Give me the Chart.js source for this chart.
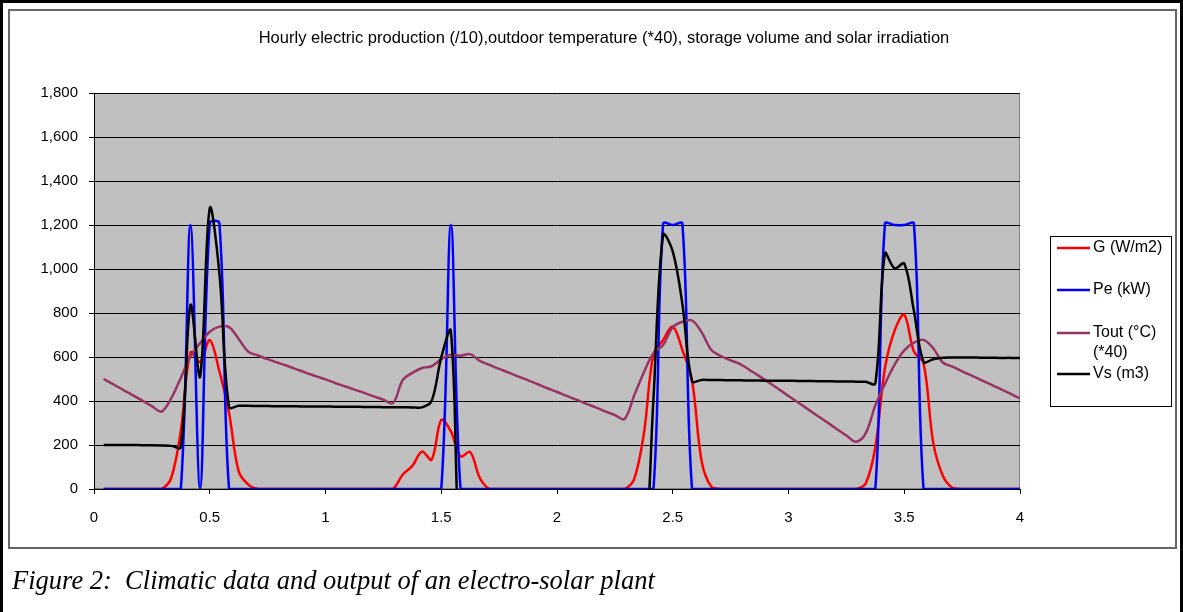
<!DOCTYPE html>
<html>
<head>
<meta charset="utf-8">
<script src="https://cdn.jsdelivr.net/npm/chart.js@4.4.1/dist/chart.umd.min.js"></script>
<style>
  body { margin: 0; background: #fff; }
  #page { position: relative; width: 1183px; height: 612px; overflow: hidden; }
  #outer { position: absolute; left: 0; top: 0; width: 1183px; height: 640px; box-sizing: border-box;
           border-left: 3px solid #000; border-top: 3px solid #000; border-right: 3px solid #000; }
  #box { position: absolute; left: 8px; top: 9px; width: 1169px; height: 540px; box-sizing: border-box;
         border: 2px solid #666; }
  #wrap { position: absolute; left: 0; top: 0; width: 1183px; height: 612px; }
  #caption { position: absolute; left: 12px; top: 565px; font: italic 26.5px "Liberation Serif", "Times New Roman", serif; }
</style>
</head>
<body>
<div id="page">
  <div id="outer"></div>
  <div id="box"></div>
  <div id="wrap"><canvas id="myChart"></canvas></div>
  <div id="caption">Figure 2:&nbsp; Climatic data and output of an electro-solar plant</div>
</div>
<script>
const chartTitle = "Hourly electric production (/10),outdoor temperature (*40), storage volume and solar irradiation";

// hour of the simulation (x axis is in days)
const hours = [
  1, 2, 3, 4, 5, 6, 7, 8, 9, 10, 11, 12, 13, 14, 15, 16, 17, 18, 19, 20, 21, 22, 23, 24,
  25, 26, 27, 28, 29, 30, 31, 32, 33, 34, 35, 36, 37, 38, 39, 40, 41, 42, 43, 44, 45, 46, 47, 48,
  49, 50, 51, 52, 53, 54, 55, 56, 57, 58, 59, 60, 61, 62, 63, 64, 65, 66, 67, 68, 69, 70, 71, 72,
  73, 74, 75, 76, 77, 78, 79, 80, 81, 82, 83, 84, 85, 86, 87, 88, 89, 90, 91, 92, 93, 94, 95, 96
];

// G (W/m2)
const gValues = [
  0, 0, 0, 0, 0, 0, 0, 50, 265, 620, 578, 677, 535, 345, 80, 20, 0, 0, 0, 0, 0, 0, 0, 0,
  0, 0, 0, 0, 0, 0, 0, 65, 105, 170, 133, 314, 262, 148, 168, 50, 0, 0, 0, 0, 0, 0, 0, 0,
  0, 0, 0, 0, 0, 0, 0, 45, 250, 612, 677, 738, 632, 492, 125, 10, 0, 0, 0, 0, 0, 0, 0, 0,
  0, 0, 0, 0, 0, 0, 0, 25, 190, 550, 720, 792, 625, 572, 212, 60, 5, 0, 0, 0, 0, 0, 0, 0
];

// Pe (kW)
const peValues = [
  0, 0, 0, 0, 0, 0, 0, 0, 0, 1200, 0, 1208, 1208, 0, 0, 0, 0, 0, 0, 0, 0, 0, 0, 0,
  0, 0, 0, 0, 0, 0, 0, 0, 0, 0, 0, 0, 1200, 0, 0, 0, 0, 0, 0, 0, 0, 0, 0, 0,
  0, 0, 0, 0, 0, 0, 0, 0, 0, 0, 1206, 1200, 1206, 0, 0, 0, 0, 0, 0, 0, 0, 0, 0, 0,
  0, 0, 0, 0, 0, 0, 0, 0, 0, 1206, 1200, 1200, 1206, 0, 0, 0, 0, 0, 0, 0, 0, 0, 0, 0
];

// Tout (°C) (*40)
const toutValues = [
  500, 476, 451, 427, 402, 377, 352, 412, 505, 603, 663, 715, 738, 736, 682, 624, 607, 590, 575, 560, 544, 528, 513, 498,
  482, 467, 452, 437, 421, 406, 390, 495, 528, 550, 558, 590, 610, 606, 613, 582, 564, 546, 529, 511, 494, 476, 458, 441,
  423, 406, 388, 371, 353, 336, 318, 425, 530, 617, 655, 735, 760, 766, 712, 632, 604, 585, 568, 540, 512, 483, 453, 423,
  393, 363, 333, 303, 273, 243, 215, 253, 380, 478, 565, 630, 665, 678, 640, 575, 556, 535, 515, 495, 474, 454, 433, 412
];

// Vs (m3) - below the axis (clipped) between the 2nd and 3rd day
const vsValues = [
  200, 200, 200, 200, 199, 199, 198, 196, 190, 836, 511, 1276, 980, 372, 378, 378, 377, 377, 376, 376, 376, 375, 375, 375,
  374, 374, 374, 373, 373, 372, 372, 372, 371, 371, 400, 598, 718, -350, -350, -350, -350, -350, -350, -350, -350, -350, -350, -350,
  -350, -350, -350, -350, -350, -350, -350, -350, -350, 410, 1155, 1080, 840, 490, 496, 495, 495, 494, 494, 493, 493, 492, 492, 492,
  491, 491, 490, 490, 489, 489, 488, 487, 480, 1071, 1003, 1025, 810, 578, 590, 597, 598, 598, 598, 597, 597, 596, 596, 595
];

const seriesNames = ["G (W/m2)", "Pe (kW)", "Tout (°C) (*40)", "Vs (m3)"];
const seriesColors = ["#ff0000", "#0000ff", "#993366", "#000000"];

function toPoints(values) {
    return hours.map((h, i) => ({ x: h / 24, y: values[i] }));
}

Chart.defaults.font.family = '"Liberation Sans", Arial, sans-serif';
Chart.defaults.color = "#000";

const excelLook = {
    id: "excelLook",
    beforeDraw: function (chart) {
        const ctx = chart.ctx;
        const a = chart.chartArea;
        ctx.save();
        ctx.fillStyle = "#c0c0c0";
        ctx.fillRect(a.left, a.top, a.right - a.left, a.bottom - a.top);
        ctx.strokeStyle = "#808080";
        ctx.lineWidth = 1;
        ctx.strokeRect(a.left + 0.5, a.top + 0.5, a.right - a.left - 1, a.bottom - a.top - 1);
        ctx.restore();
    },
    afterDraw: function (chart) {
        const ctx = chart.ctx;
        ctx.save();
        // title
        ctx.fillStyle = "#000";
        ctx.font = '16.5px "Liberation Sans", Arial, sans-serif';
        ctx.textAlign = "center";
        ctx.textBaseline = "middle";
        ctx.fillText(chartTitle, 604, 38);

        // legend box
        ctx.strokeStyle = "#000";
        ctx.lineWidth = 1;
        ctx.strokeRect(1050.5, 236.5, 121, 170);
        const rows = [248, 290, 333, 374];
        ctx.font = '16px "Liberation Sans", Arial, sans-serif';
        ctx.textAlign = "left";
        seriesNames.forEach((name, i) => {
            ctx.strokeStyle = seriesColors[i];
            ctx.lineWidth = 2.5;
            ctx.beginPath();
            ctx.moveTo(1057, rows[i]);
            ctx.lineTo(1090, rows[i]);
            ctx.stroke();
            ctx.fillStyle = "#000";
            if (i === 2) {
                ctx.fillText("Tout (°C)", 1093, rows[i]);
                ctx.fillText("(*40)", 1093, rows[i] + 20);
            } else {
                ctx.fillText(name, 1093, rows[i]);
            }
        });
        ctx.restore();
    },
};

const datasetValues = [gValues, peValues, toutValues, vsValues];

const ctx = document.getElementById("myChart").getContext("2d");
const myChart = new Chart(ctx, {
    type: "line",
    plugins: [excelLook],
    data: {
        datasets: datasetValues.map((vals, i) => ({
            label: seriesNames[i],
            data: toPoints(vals),
            borderColor: seriesColors[i],
            backgroundColor: seriesColors[i],
            borderWidth: 2.5,
            pointRadius: 0,
            tension: 0.35,
            fill: false,
            // excel draws the last series on top
            order: 3 - i,
        })),
    },
    options: {
        responsive: true,
        maintainAspectRatio: false,
        animation: false,
        layout: {
            padding: { top: 93, right: 163, bottom: 0, left: 0 },
        },
        plugins: {
            legend: { display: false },
            title: { display: false },
            tooltip: { enabled: false },
        },
        scales: {
            x: {
                type: "linear",
                min: 0,
                max: 4,
                ticks: {
                    stepSize: 0.5,
                    padding: 15,
                    font: { size: 15 },
                    callback: function (value) {
                        return String(value);
                    },
                },
                grid: { drawOnChartArea: false, drawTicks: true, tickLength: 5, color: "#000" },
                border: { color: "#000", width: 1 },
                afterFit: function (scale) {
                    scale.height = 123;
                },
            },
            y: {
                min: 0,
                max: 1800,
                ticks: { stepSize: 200, padding: 11, font: { size: 15 } },
                grid: { tickLength: 5, color: "#000" },
                border: { color: "#000", width: 1 },
                afterFit: function (scale) {
                    scale.width = 94;
                },
            },
        },
    },
});
</script>
</body>
</html>
